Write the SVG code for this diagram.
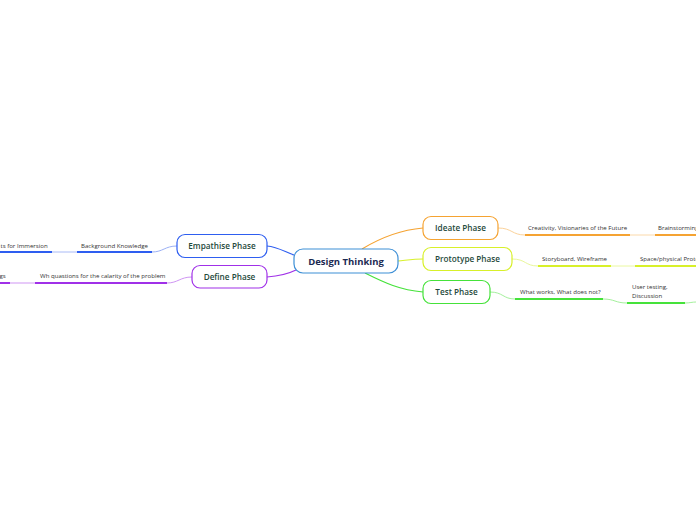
<svg xmlns="http://www.w3.org/2000/svg" width="696" height="520" viewBox="0 0 696 520">
<style>
.node{fill:#fff;stroke-width:1.2}
.nt{font-family:"Open Sans","Noto Sans",sans-serif;font-size:8.2px;font-weight:600;fill:#1f4a3c;text-anchor:middle}
.ct{font-family:"Open Sans","Noto Sans",sans-serif;font-size:9.5px;font-weight:700;fill:#1c2a52;text-anchor:middle}
.st{font-family:"Open Sans","Noto Sans",sans-serif;font-size:6.1px;fill:#333}
.ul{fill:none;stroke-width:2}
.lt{fill:none;stroke-width:1}
</style>
<g id="connectors">
  <path d="M294,255 C285,252 278,247 267,246" fill="none" stroke="#2e5ef0" stroke-width="1.2"/>
  <path d="M296,270 C288,274 280,276 267,277" fill="none" stroke="#a030e8" stroke-width="1.2"/>
  <path d="M362,249 C380,238 400,230 423,228" fill="none" stroke="#f5a332" stroke-width="1.2"/>
  <path d="M398,261 C408,260 414,259 423,259" fill="none" stroke="#d8f02a" stroke-width="1.2"/>
  <path d="M365,273 C385,283 400,290 423,292" fill="none" stroke="#45e23a" stroke-width="1.2"/>
  <path class="lt" d="M177,246 C165,246 163,252 152,252" stroke="#9bb0f5"/>
  <line class="ul" x1="77" y1="252" x2="152" y2="252" stroke="#2e5ef0"/>
  <line class="lt" x1="52" y1="252" x2="77" y2="252" stroke="#a9baf6"/>
  <line class="ul" x1="0" y1="252" x2="52" y2="252" stroke="#2e5ef0"/>
  <path class="lt" d="M192,277 C180,277 178,283 167,283" stroke="#cf95f3"/>
  <line class="ul" x1="35" y1="283" x2="167" y2="283" stroke="#a030e8"/>
  <line class="lt" x1="10" y1="283" x2="35" y2="283" stroke="#cf95f3"/>
  <line class="ul" x1="0" y1="283" x2="10" y2="283" stroke="#a030e8"/>
  <path class="lt" d="M498,228 C512,228 512,235 525,235" stroke="#fbd29a"/>
  <line class="ul" x1="525" y1="235" x2="630" y2="235" stroke="#f5a332"/>
  <line class="lt" x1="630" y1="235" x2="655" y2="235" stroke="#fbd9aa"/>
  <line class="ul" x1="655" y1="235" x2="696" y2="235" stroke="#f5a332"/>
  <path class="lt" d="M512,259 C526,259 525,266 538,266" stroke="#e9f79a"/>
  <line class="ul" x1="538" y1="266" x2="611" y2="266" stroke="#d8f02a"/>
  <line class="lt" x1="611" y1="266" x2="635" y2="266" stroke="#eaf8a0"/>
  <line class="ul" x1="635" y1="266" x2="696" y2="266" stroke="#d8f02a"/>
  <path class="lt" d="M490,292 C503,292 503,299 515,299" stroke="#a4f09c"/>
  <line class="ul" x1="515" y1="299" x2="603" y2="299" stroke="#45e23a"/>
  <path class="lt" d="M603,299 C615,299 615,303 627,303" stroke="#a4f09c"/>
  <line class="ul" x1="627" y1="303" x2="685" y2="303" stroke="#45e23a"/>
  <path class="lt" d="M685,303 C690,303 692,302 696,302" stroke="#a4f09c"/>
</g>
<g id="design-thinking">
  <rect class="node" x="294" y="249" width="104" height="24" rx="9" stroke="#3d8fd6"/>
  <text class="ct" x="346" y="264.5">Design Thinking</text>
</g>
<g id="empathise">
  <rect class="node" x="177" y="234.5" width="90" height="23" rx="8" stroke="#2e5ef0"/>
  <text class="nt" x="222" y="249">Empathise Phase</text>
</g>
<g id="define">
  <rect class="node" x="192" y="265.5" width="75" height="22.5" rx="8" stroke="#a030e8"/>
  <text class="nt" x="229.5" y="280">Define Phase</text>
</g>
<g id="ideate">
  <rect class="node" x="423" y="216.5" width="75" height="23" rx="8" stroke="#f5a332"/>
  <text class="nt" x="460.5" y="231">Ideate Phase</text>
</g>
<g id="prototype">
  <rect class="node" x="423" y="247.5" width="89" height="23" rx="8" stroke="#d8f02a"/>
  <text class="nt" x="467.5" y="262">Prototype Phase</text>
</g>
<g id="test">
  <rect class="node" x="423" y="280.5" width="67" height="23" rx="8" stroke="#45e23a"/>
  <text class="nt" x="456.5" y="295">Test Phase</text>
</g>
<g id="background-knowledge"><text class="st" x="81" y="248">Background Knowledge</text></g>
<g id="immersion"><text class="st" x="0.5" y="248">ts for Immersion</text></g>
<g id="wh-questions"><text class="st" x="40" y="278">Wh quastions for the calarity of the problem</text></g>
<g id="gs"><text class="st" x="-0.5" y="278">gs</text></g>
<g id="creativity"><text class="st" x="528" y="230">Creativity, Visionaries of the Future</text></g>
<g id="brainstorming"><text class="st" x="658" y="230">Brainstorming</text></g>
<g id="storyboard"><text class="st" x="542" y="261">Storyboard, Wireframe</text></g>
<g id="space"><text class="st" x="640" y="261">Space/physical Prototype</text></g>
<g id="what-works"><text class="st" x="520" y="294">What works, What does not?</text></g>
<g id="user-testing"><text class="st" x="632" y="289">User testing,</text><text class="st" x="632" y="298">Discussion</text></g>
</svg>
